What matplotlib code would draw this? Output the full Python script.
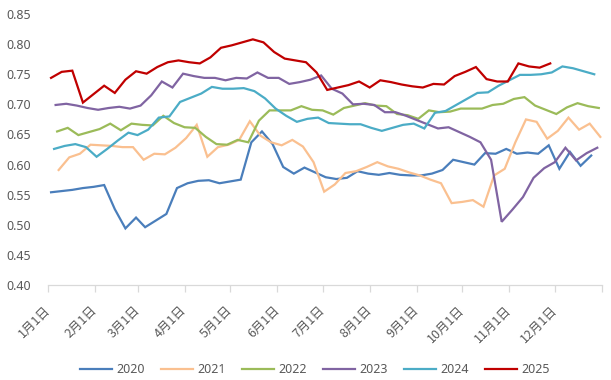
import matplotlib
matplotlib.use("Agg")
import matplotlib.pyplot as plt
import pandas as pd

plt.rcParams["font.family"] = ["Noto Sans CJK SC", "DejaVu Sans"]

# weekly readings (every Friday), one list per year
start_2020 = "2020-01-03"
v2020 = [0.554, 0.556, 0.558, 0.561, 0.563, 0.566, 0.526, 0.494, 0.512, 0.496,
         0.507, 0.518, 0.561, 0.569, 0.573, 0.574, 0.569, 0.572, 0.575, 0.637,
         0.655, 0.634, 0.596, 0.585, 0.595, 0.587, 0.579, 0.576, 0.578, 0.589,
         0.585, 0.583, 0.586, 0.583, 0.582, 0.582, 0.585, 0.591, 0.608, 0.604,
         0.600, 0.619, 0.618, 0.626, 0.618, 0.620, 0.618, 0.632, 0.593, 0.621,
         0.598, 0.615]

start_2021 = "2021-01-08"
v2021 = [0.591, 0.612, 0.618, 0.633, 0.632, 0.631, 0.629, 0.629, 0.608, 0.618,
         0.617, 0.628, 0.644, 0.666, 0.613, 0.629, 0.633, 0.641, 0.672, 0.648,
         0.637, 0.632, 0.641, 0.630, 0.604, 0.555, 0.567, 0.586, 0.589, 0.596,
         0.604, 0.597, 0.593, 0.587, 0.582, 0.575, 0.569, 0.536, 0.538, 0.541,
         0.530, 0.582, 0.593, 0.637, 0.675, 0.671, 0.643, 0.656, 0.678, 0.658,
         0.668, 0.646]

start_2022 = "2022-01-07"
v2022 = [0.655, 0.661, 0.649, 0.654, 0.659, 0.668, 0.657, 0.668, 0.666, 0.665,
         0.681, 0.669, 0.662, 0.661, 0.646, 0.634, 0.633, 0.641, 0.637, 0.673,
         0.690, 0.690, 0.690, 0.697, 0.691, 0.690, 0.683, 0.694, 0.698, 0.702,
         0.698, 0.697, 0.684, 0.682, 0.676, 0.690, 0.687, 0.688, 0.693, 0.693,
         0.693, 0.699, 0.701, 0.709, 0.712, 0.698, 0.691, 0.684, 0.695, 0.702,
         0.697, 0.694]

start_2023 = "2023-01-06"
v2023 = [0.699, 0.701, 0.698, 0.694, 0.691, 0.694, 0.696, 0.693, 0.698, 0.715,
         0.738, 0.728, 0.751, 0.747, 0.744, 0.744, 0.740, 0.744, 0.743, 0.753,
         0.744, 0.744, 0.734, 0.737, 0.741, 0.748, 0.726, 0.718, 0.700, 0.701,
         0.699, 0.687, 0.687, 0.681, 0.674, 0.667, 0.660, 0.662, 0.654, 0.646,
         0.637, 0.608, 0.505, 0.525, 0.546, 0.578, 0.594, 0.604, 0.628, 0.607,
         0.619, 0.628]

start_2024 = "2024-01-05"
v2024 = [0.626, 0.631, 0.634, 0.629, 0.613, 0.626, 0.640, 0.653, 0.649, 0.658,
         0.678, 0.680, 0.704, 0.711, 0.718, 0.729, 0.726, 0.726, 0.727, 0.722,
         0.710, 0.693, 0.681, 0.671, 0.676, 0.678, 0.669, 0.668, 0.667, 0.667,
         0.661, 0.656, 0.661, 0.666, 0.668, 0.660, 0.686, 0.689, 0.699, 0.709,
         0.719, 0.720, 0.731, 0.740, 0.749, 0.749, 0.750, 0.753, 0.763, 0.760,
         0.755, 0.750]

start_2025 = "2025-01-03"
v2025 = [0.744, 0.754, 0.756, 0.703, 0.717, 0.731, 0.719, 0.741, 0.755, 0.751,
         0.762, 0.770, 0.773, 0.770, 0.768, 0.778, 0.794, 0.798, 0.803, 0.808,
         0.803, 0.787, 0.776, 0.773, 0.770, 0.753, 0.724, 0.728, 0.732, 0.738,
         0.728, 0.740, 0.737, 0.733, 0.730, 0.728, 0.734, 0.733, 0.747, 0.754,
         0.762, 0.742, 0.738, 0.738, 0.768, 0.763, 0.761, 0.768]

years = ["2020", "2021", "2022", "2023", "2024", "2025"]
starts = [start_2020, start_2021, start_2022, start_2023, start_2024, start_2025]
values = [v2020, v2021, v2022, v2023, v2024, v2025]
colors = ["#4A7EBB", "#FAC090", "#9BBB59", "#8064A2", "#4BACC6", "#C00000"]

month_labels = [f"{m}月1日" for m in range(1, 13)]
y_ticks = [0.40, 0.45, 0.50, 0.55, 0.60, 0.65, 0.70, 0.75, 0.80, 0.85]
y_labels = ["0.40", "0.45", "0.50", "0.55", "0.60",
            "0.65", "0.70", "0.75", "0.80", "0.85"]


def day_of_year(dates):
    # put every year on a common 365-day axis
    out = []
    for d in dates:
        x = (d - pd.Timestamp(d.year, 1, 1)).days
        if d.is_leap_year and d.month > 2:
            x -= 1
        out.append(x)
    return out


fig, ax = plt.subplots(figsize=(6.11, 3.80), dpi=100)
fig.subplots_adjust(left=0.0786, right=0.985, top=0.963, bottom=0.25)

for year, start, vals, c in zip(years, starts, values, colors):
    dates = pd.date_range(start, periods=len(vals), freq="7D")
    ax.plot(day_of_year(dates), vals, color=c, lw=1.6, label=year,
            solid_joinstyle="miter")

month_starts = [(pd.Timestamp(2021, m, 1) - pd.Timestamp(2021, 1, 1)).days
                for m in range(1, 13)]
ax.set_xlim(0, 365)
ax.set_xticks(month_starts + [365])
ax.set_xticklabels(month_labels + [""], rotation=45, ha="right", va="center",
                   rotation_mode="anchor")
ax.set_ylim(0.40, 0.85)
ax.set_yticks(y_ticks)
ax.set_yticklabels(y_labels, family=["Noto Sans", "DejaVu Sans"])

for side in ["left", "top", "right"]:
    ax.spines[side].set_visible(False)
ax.spines["bottom"].set_color("#D9D9D9")
ax.spines["bottom"].set_linewidth(0.9)
ax.tick_params(axis="x", length=5, color="#D9D9D9", width=0.9,
               labelsize=9, labelcolor="#595959", pad=12)
ax.tick_params(axis="y", length=0, labelsize=9, labelcolor="#595959", pad=12)

fig.legend(loc="lower center", bbox_to_anchor=(0.515, -0.02), ncol=6,
           frameon=False, fontsize=9, handlelength=2.6, columnspacing=1.3,
           labelcolor="#595959", handletextpad=0.3,
           prop={"family": ["Noto Sans", "DejaVu Sans"], "size": 9})

plt.savefig("out.png", dpi=100)
